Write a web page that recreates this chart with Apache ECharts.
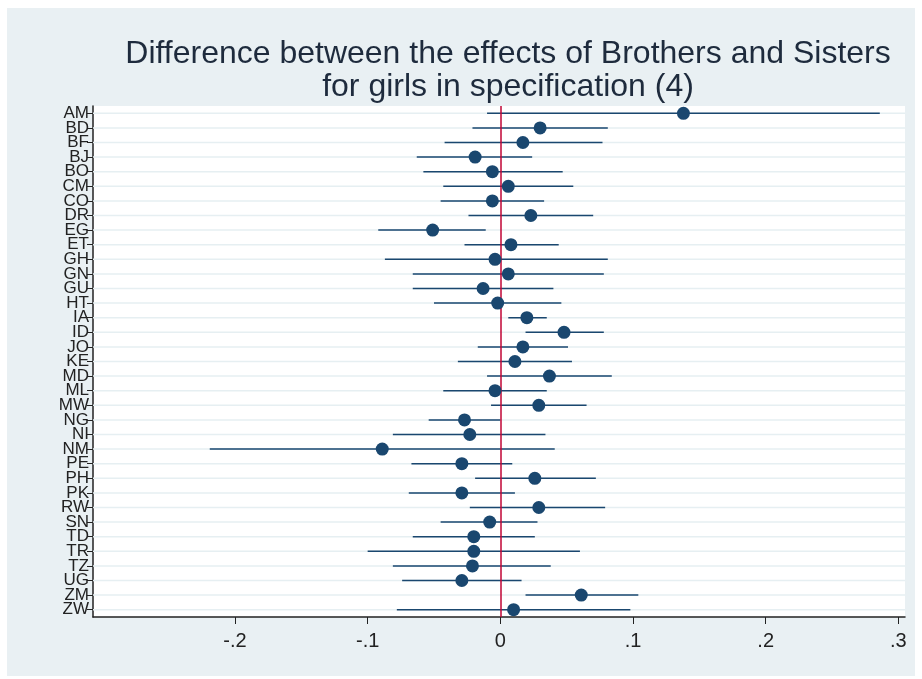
<!DOCTYPE html>
<html><head><meta charset="utf-8">
<script src="https://cdn.jsdelivr.net/npm/echarts@6/dist/echarts.min.js"></script>
<style>html,body{margin:0;padding:0;background:#fff}#main{width:922px;height:679px}</style>
</head><body><div id="main"></div>
<script>
var chart = echarts.init(document.getElementById('main'));

var countries = ['AM','BD','BF','BJ','BO','CM','CO','DR','EG','ET','GH','GN','GU','HT','IA','ID','JO','KE','MD','ML','MW','NG','NI','NM','PE','PH','PK','RW','SN','TD','TR','TZ','UG','ZM','ZW'];
var estimate = [0.138,0.030,0.017,-0.019,-0.006,0.006,-0.006,0.023,-0.051,0.008,-0.004,0.006,-0.013,-0.002,0.020,0.048,0.017,0.011,0.037,-0.004,0.029,-0.027,-0.023,-0.089,-0.029,0.026,-0.029,0.029,-0.008,-0.020,-0.020,-0.021,-0.029,0.061,0.010];
var lower = [-0.010,-0.021,-0.042,-0.063,-0.058,-0.043,-0.045,-0.024,-0.092,-0.027,-0.087,-0.066,-0.066,-0.050,0.006,0.019,-0.017,-0.032,-0.010,-0.043,-0.007,-0.054,-0.081,-0.219,-0.067,-0.019,-0.069,-0.023,-0.045,-0.066,-0.100,-0.081,-0.074,0.019,-0.078];
var upper = [0.286,0.081,0.077,0.024,0.047,0.055,0.033,0.070,-0.011,0.044,0.081,0.078,0.040,0.046,0.035,0.078,0.051,0.054,0.084,0.035,0.065,0.000,0.034,0.041,0.009,0.072,0.011,0.079,0.028,0.026,0.060,0.038,0.016,0.104,0.098];
var xTicks = ['-.2','-.1','0','.1','.2','.3'];

var navy = '#1a476f';
var xMin = -0.307, xMax = 0.305;
var ciData = countries.map(function (c, i) { return [lower[i], upper[i], i]; });
var ptData = countries.map(function (c, i) { return [estimate[i], i]; });
var gridData = countries.map(function (c, i) { return [xMin, xMax, i]; });

function hLine(color, width) {
  return function (params, api) {
    var a = api.coord([api.value(0), api.value(2)]);
    var b = api.coord([api.value(1), api.value(2)]);
    return { type: 'line', shape: { x1: a[0], y1: a[1], x2: b[0], y2: b[1] }, style: { stroke: color, lineWidth: width } };
  };
}

chart.setOption({
  animation: false,
  graphic: [{ type: 'rect', z: -10, shape: { x: 7, y: 8, width: 908, height: 668 }, style: { fill: '#e9f0f3' } }],
  title: {
    text: 'Difference between the effects of Brothers and Sisters\nfor girls in specification (4)',
    left: 503, top: 33, textAlign: 'center',
    textStyle: { fontFamily: 'Liberation Sans', fontWeight: 'normal', fontSize: 32, lineHeight: 33, color: '#1e2b3d' }
  },
  grid: { left: 93, right: 17, top: 106, bottom: 62, show: true, backgroundColor: '#fff', borderWidth: 0 },
  xAxis: {
    type: 'value', min: xMin, max: xMax,
    axisLine: { show: true, onZero: false, lineStyle: { color: '#222', width: 1.5 } },
    axisTick: { show: true, length: 7, lineStyle: { color: '#222' }, customValues: [-0.2,-0.1,0,0.1,0.2,0.3] },
    axisLabel: { customValues: [-0.2,-0.1,0,0.1,0.2,0.3], margin: 14, fontSize: 20, color: '#222', fontFamily: 'Liberation Sans',
      formatter: function (v) { return xTicks[Math.round(v * 10) + 2]; } },
    splitLine: { show: false }
  },
  yAxis: {
    type: 'category', data: countries, inverse: true,
    axisLine: { show: true, onZero: false, lineStyle: { color: '#222', width: 1.5 } },
    axisTick: { show: true, alignWithLabel: true, length: 6, lineStyle: { color: '#222' } },
    axisLabel: { fontSize: 17, color: '#222', margin: 4, fontFamily: 'Liberation Sans', interval: 0, lineHeight: 12 },
    splitLine: { show: false }
  },
  series: [
    {
      type: 'custom', data: gridData, renderItem: hLine('#e6eff2', 1.5),
      encode: { x: [0, 1], y: 2 }, z: 1, silent: true
    },
    {
      type: 'custom', data: ciData, renderItem: hLine(navy, 1.5),
      encode: { x: [0, 1], y: 2 }, z: 2
    },
    {
      type: 'scatter', data: ptData, symbolSize: 13, z: 4,
      itemStyle: { color: navy, opacity: 1 },
      markLine: {
        silent: true, symbol: 'none', label: { show: false }, z: 3,
        lineStyle: { color: '#c10534', width: 1.5, type: 'solid' },
        data: [{ xAxis: 0 }]
      }
    }
  ]
});
</script></body></html>
